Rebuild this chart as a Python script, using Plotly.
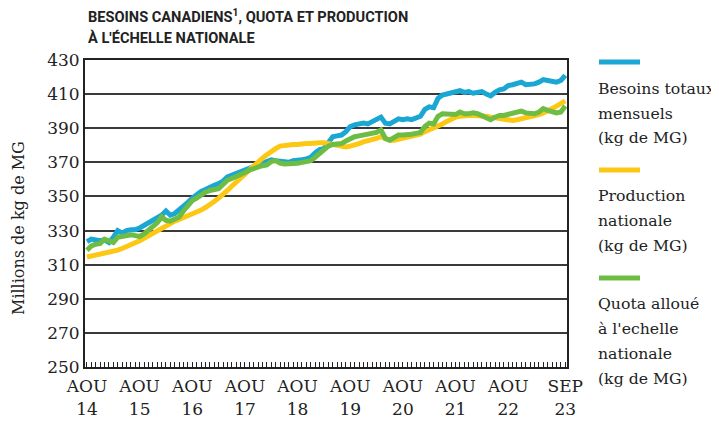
import plotly.graph_objects as go

# monthly values, Aug 2014 .. Sep 2023 (millions kg MG)
besoins = [
    323.5, 325, 324.5, 324, 324.5, 323, 326, 330, 328.5, 330, 330.5, 330.5,
    331.5, 333, 334, 335.5, 337, 339, 341.5, 339, 340, 342, 344.5, 346.5,
    349, 351, 353, 354, 355.5, 356.5, 357.5, 359, 361.5, 362.5, 363.5, 364.5,
    366, 367, 368, 368.5, 369.5, 370.5, 371.5, 371, 370.5, 370.5, 370, 371,
    371, 371.5, 372, 373, 375.5, 377.5, 378, 381, 385, 385.5, 386, 388,
    391, 392, 392.5, 393, 392.5, 394, 395.5, 396.5, 393, 392.5, 394, 395.5,
    395, 395.5, 395, 396, 397, 401, 402.5, 402, 407.5, 409.5, 410, 410.5,
    411, 412, 411, 411.5, 410.5, 411, 411.5, 410, 409, 411, 412.5, 413,
    415, 415.5, 416, 417, 415.5, 415.5, 416, 417, 418.5, 418, 417.5, 417,
    418, 421,
]
production = [
    314.5, 315, 315.5, 316, 316.5, 317, 318, 318.5, 319.5, 320.5, 321.5, 322.5,
    324, 325.5, 327, 328.5, 330, 331.5, 333, 334.5, 335.5, 336.5, 337.5, 338.5,
    339.5, 340.5, 342, 343.5, 345, 347, 349, 351, 353.5, 356, 358.5, 361,
    363.5, 366, 368, 370.5, 372.5, 374.5, 376.5, 378, 379.5, 380, 380.5, 380.5,
    380.5, 381, 381, 381, 381.5, 381.5, 381.5, 381, 380.5, 379.5, 379, 379,
    379.5, 380, 381, 382, 382.5, 383, 384, 385, 384, 383, 383, 383.5,
    384, 384.5, 385, 385.5, 386.5, 388, 389, 390, 391, 392.5, 394, 395.5,
    396.5, 397, 397.5, 397.5, 397.5, 397.5, 397, 397, 396.5, 396, 395.5, 395,
    394.5, 394.5, 395, 395.5, 396, 396.5, 397, 398, 399, 400, 401.5, 403,
    404.5, 406,
]
quota = [
    318.5, 321, 322, 322.5, 325, 324, 323, 326, 326.5, 327, 327.5, 327,
    326.5, 328, 330, 332, 334.5, 338, 336, 335.5, 336.5, 338, 341.5, 345,
    347.5, 349, 351, 352.5, 353.5, 354, 354.5, 357, 359.5, 360.5, 361.5, 362.5,
    364, 365.5, 366.5, 367.5, 368, 368.5, 370.5, 371, 369.5, 369, 369, 369.5,
    369.5, 370, 370.5, 371, 373, 375.5, 377.5, 379.5, 380.5, 380.5, 381, 382.5,
    384, 385, 385.5, 386, 386, 386.5, 387.5, 389, 384, 383, 384.5, 386,
    386, 386, 386.5, 387, 387.5, 391, 393, 392.5, 397, 398.5, 398.5, 398.5,
    398, 399.5, 398.5, 398.5, 399, 398.5, 397.5, 396, 395, 396.5, 397.5, 397.5,
    398, 398.5, 399.5, 400, 399, 398.5, 398.5, 399.5, 401.5, 400.5, 399.5, 399,
    399.5, 403,
]

months = list(range(len(besoins)))
tick_pos = [0, 12, 24, 36, 48, 60, 72, 84, 96, 109]
tick_text = ['AOU<br>14', 'AOU<br>15', 'AOU<br>16', 'AOU<br>17', 'AOU<br>18',
             'AOU<br>19', 'AOU<br>20', 'AOU<br>21', 'AOU<br>22', 'SEP<br>23']

series_colors = ['#1aa7d3', '#fdc815', '#6dbd45']
legend_lines = [
    ['Besoins totaux', 'mensuels', '(kg de MG)'],
    ['Production', 'nationale', '(kg de MG)'],
    ["Quota alloué", "à l'echelle", 'nationale', '(kg de MG)'],
]

SERIF = 'DejaVu Serif'
TITLE_FONT = 'Roboto'

fig = go.Figure()
for vals, col in zip([besoins, production, quota], series_colors):
    fig.add_trace(go.Scatter(x=months, y=vals, mode='lines',
                             line=dict(color=col, width=5), showlegend=False))

# pixel helpers for the paper coords (plot area 85..567 x 60..367 on the page)
def px_x(p):
    return (p - 85) / 482

def px_y(p):
    return (367 - p) / 307

# custom legend on the right
bar_y = [62, 170, 278]
text_y = [[88, 113, 137], [195, 220, 245], [303, 328, 353, 378]]
for col, by, lines, tys in zip(series_colors, bar_y, legend_lines, text_y):
    fig.add_shape(type='line', xref='paper', yref='paper',
                  x0=px_x(599), x1=px_x(640), y0=px_y(by), y1=px_y(by),
                  line=dict(color=col, width=5))
    for txt, ty in zip(lines, tys):
        fig.add_annotation(text=txt, xref='paper', yref='paper',
                           x=px_x(596), y=px_y(ty), xanchor='left', yanchor='middle',
                           showarrow=False, font=dict(family=SERIF, size=15.7, color='#222'))

# title
for txt, ty in zip(['BESOINS CANADIENS<sup>1</sup>, QUOTA ET PRODUCTION',
                    "À L'ÉCHELLE NATIONALE"], [17, 38]):
    fig.add_annotation(text='<b>' + txt + '</b>', xref='paper', yref='paper',
                       x=px_x(86), y=px_y(ty), xanchor='left', yanchor='middle',
                       showarrow=False,
                       font=dict(family=TITLE_FONT, size=14.6, color='#222'))

# y axis title
fig.add_annotation(text='Millions de kg de MG', xref='paper', yref='paper',
                   x=px_x(18), y=px_y(228), textangle=-90, showarrow=False,
                   xanchor='center', yanchor='middle',
                   font=dict(family=SERIF, size=16, color='#222'))

fig.update_xaxes(range=[-0.45, 109.4], tickvals=tick_pos, ticktext=tick_text,
                 ticks='inside', ticklen=5, tickcolor='#222', tickwidth=1,
                 minor=dict(ticks='inside', ticklen=5, dtick=1, tick0=0,
                            tickcolor='#222', tickwidth=1, showgrid=False),
                 showgrid=False, showline=True, linecolor='#222', linewidth=2,
                 mirror=True, zeroline=False, ticklabelstandoff=3,
                 automargin=False,
                 tickfont=dict(family=SERIF, size=17, color='#222'))
fig.update_yaxes(range=[250, 430], dtick=20, tick0=250,
                 showgrid=True, gridcolor='#3a3a3a', gridwidth=1.5,
                 showline=True, linecolor='#222', linewidth=2, mirror=True,
                 zeroline=False, ticks='', automargin=False,
                 tickfont=dict(family=SERIF, size=17, color='#222'))

# page body has an 8px margin, so the figure is 8px smaller on each axis
fig.update_layout(width=711, height=413,
                  margin=dict(l=77, r=152, t=52, b=54),
                  plot_bgcolor='white', paper_bgcolor='white',
                  showlegend=False)

fig.write_html("out.html")
